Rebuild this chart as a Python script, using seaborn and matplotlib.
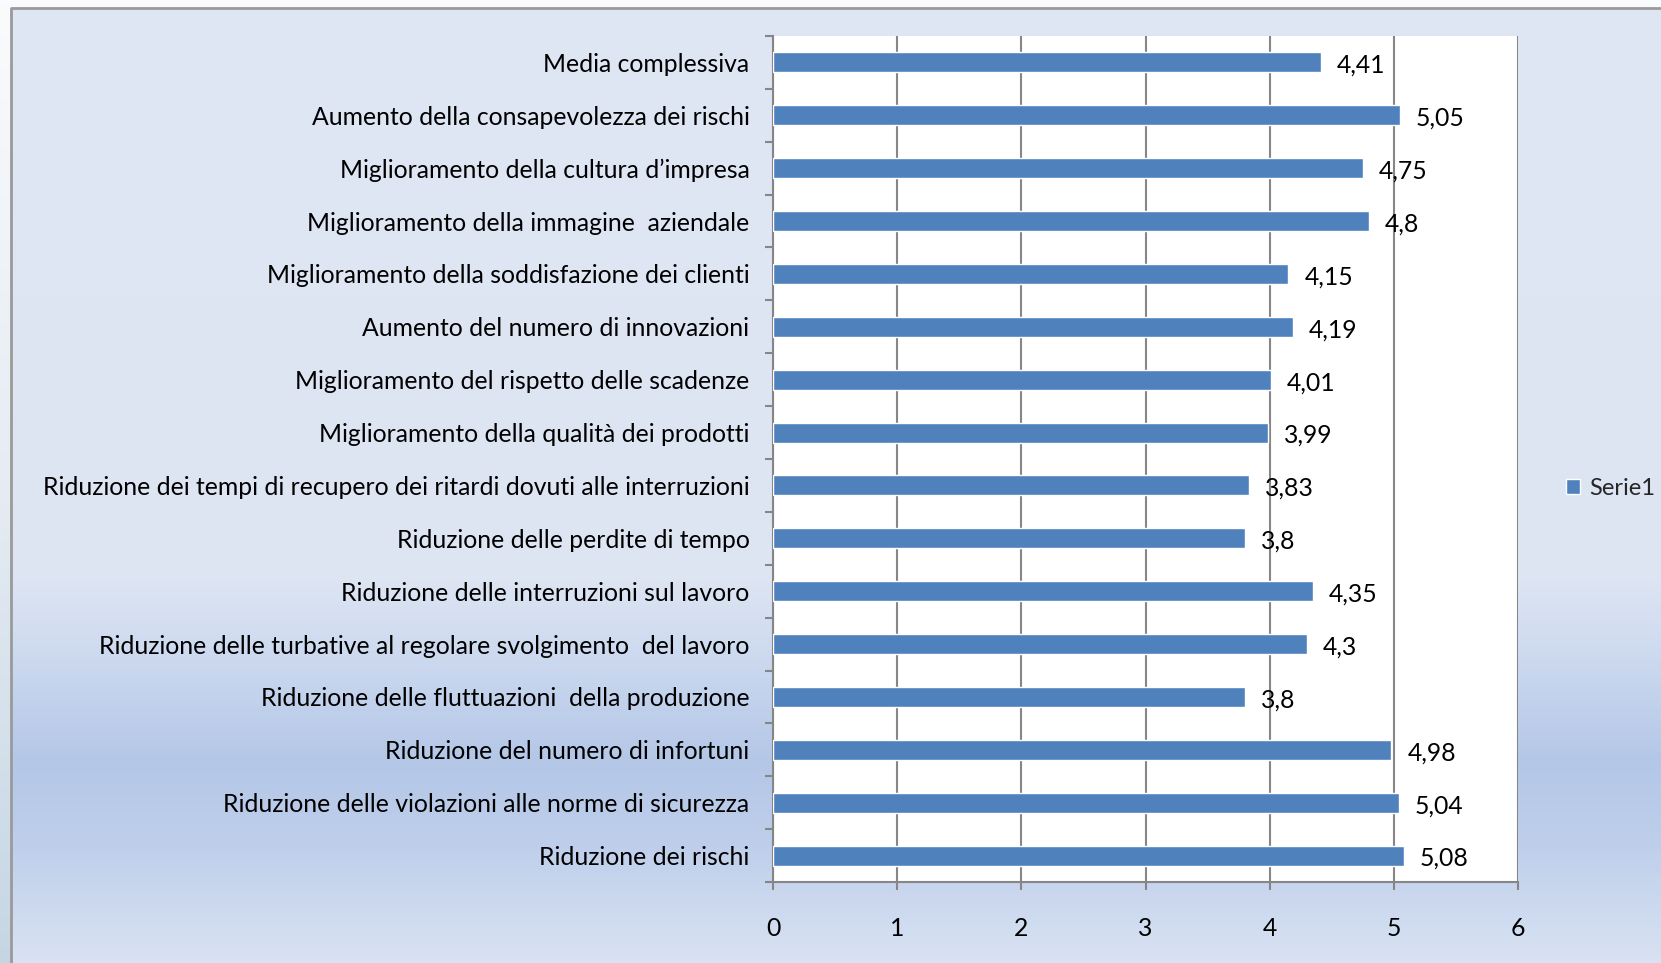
import numpy as np
import pandas as pd
import matplotlib
matplotlib.use("Agg")
import matplotlib.pyplot as plt
from matplotlib.colors import LinearSegmentedColormap
import seaborn as sns

categories = [
    "Media complessiva",
    "Aumento della consapevolezza dei rischi",
    "Miglioramento della cultura d\u2019impresa",
    "Miglioramento della immagine  aziendale",
    "Miglioramento della soddisfazione dei clienti",
    "Aumento del numero di innovazioni",
    "Miglioramento del rispetto delle scadenze",
    "Miglioramento della qualità dei prodotti",
    "Riduzione dei tempi di recupero dei ritardi dovuti alle interruzioni",
    "Riduzione delle perdite di tempo",
    "Riduzione delle interruzioni sul lavoro",
    "Riduzione delle turbative al regolare svolgimento  del lavoro",
    "Riduzione delle fluttuazioni  della produzione",
    "Riduzione del numero di infortuni",
    "Riduzione delle violazioni alle norme di sicurezza",
    "Riduzione dei rischi",
]
values = [4.41, 5.05, 4.75, 4.8, 4.15, 4.19, 4.01, 3.99, 3.83, 3.8, 4.35, 4.3, 3.8, 4.98, 5.04, 5.08]
value_labels = ["4,41", "5,05", "4,75", "4,8", "4,15", "4,19", "4,01", "3,99", "3,83", "3,8",
                "4,35", "4,3", "3,8", "4,98", "5,04", "5,08"]
x_ticks = [0, 1, 2, 3, 4, 5, 6]
series_name = "Serie1"

df = pd.DataFrame({"cat": categories, "val": values})

sns.set_theme(style="white")
plt.rcParams["font.family"] = ["Lato", "DejaVu Sans"]

FS = 17.8
W, H = 1661, 963
fig = plt.figure(figsize=(W / 100, H / 100), dpi=100)
fig.patch.set_facecolor("white")

# background with gradient
bg = fig.add_axes([0, 0, 1, 1], zorder=-10)
bg.set_xlim(0, W)
bg.set_ylim(H, 0)
bg.axis("off")
outer = LinearSegmentedColormap.from_list(
    "outer", [(0, "#fafbfd"), (0.5, "#e6ecf3"), (1, "#c5d6e3")])
bg.imshow(np.linspace(0, 1, 256).reshape(-1, 1), cmap=outer, aspect="auto",
          extent=[0, W, H, 0], zorder=0)
inner = LinearSegmentedColormap.from_list(
    "inner", [(0, "#dfe6f3"), (0.60, "#dde5f3"), (0.70, "#c8d6ee"),
              (0.79, "#b4c7e7"), (0.88, "#bfcfeb"), (1, "#d8e2f2")])
bg.imshow(np.linspace(0, 1, 256).reshape(-1, 1), cmap=inner, aspect="auto",
          extent=[11, W, H, 8], zorder=1)
bg.plot([11, 11, W], [H, 8, 8], color="#9a9a9a", lw=2, zorder=2)

left, right, top, bottom = 773, 1518, 36, 882
ax = fig.add_axes([left / W, 1 - bottom / H, (right - left) / W, (bottom - top) / H])
ax.set_facecolor("white")

sns.barplot(data=df, x="val", y="cat", orient="h", color="#4F81BD", width=0.38,
            saturation=1, ax=ax, label=series_name, zorder=3)
if ax.get_legend() is not None:
    ax.get_legend().remove()

ax.set_xlim(0, 6)
ax.set_ylim(len(categories) - 0.5, -0.5)
ax.set_xticks(x_ticks)
ax.set_xticklabels([str(t) for t in x_ticks], fontsize=FS, color="black")
ax.set_xlabel("")
ax.set_ylabel("")
ax.set_yticks(range(len(categories)))
ax.set_yticklabels(categories, fontsize=FS, color="black")
ax.tick_params(axis="y", which="major", left=True, length=0, pad=17)
ax.set_yticks(np.arange(-0.5, len(categories), 1), minor=True)
ax.tick_params(axis="y", which="minor", left=True, length=6, width=1.5,
               color="#868686", direction="out")
ax.tick_params(axis="x", which="major", bottom=True, length=6, width=1.5,
               color="#868686", direction="out", pad=19)
ax.grid(axis="x", color="#868686", lw=1.5, zorder=0)
ax.set_axisbelow(True)
for s in ["top", "right"]:
    ax.spines[s].set_visible(False)
for s in ["left", "bottom"]:
    ax.spines[s].set_color("#868686")
    ax.spines[s].set_linewidth(1.5)

for i, (v, lab) in enumerate(zip(values, value_labels)):
    ax.annotate(lab, xy=(v, i), xytext=(16, -3), textcoords="offset pixels",
                ha="left", va="center", fontsize=FS, color="black")

handles, labels = ax.get_legend_handles_labels()
fig.legend(handles[:1], labels[:1], loc="center left",
           bbox_to_anchor=(1566 / W, 1 - 488 / H), frameon=False,
           handlelength=0.6, handleheight=0.6, handletextpad=0.4,
           borderpad=0, borderaxespad=0, fontsize=17)

fig.savefig("out.png", dpi=100, facecolor=fig.get_facecolor())
